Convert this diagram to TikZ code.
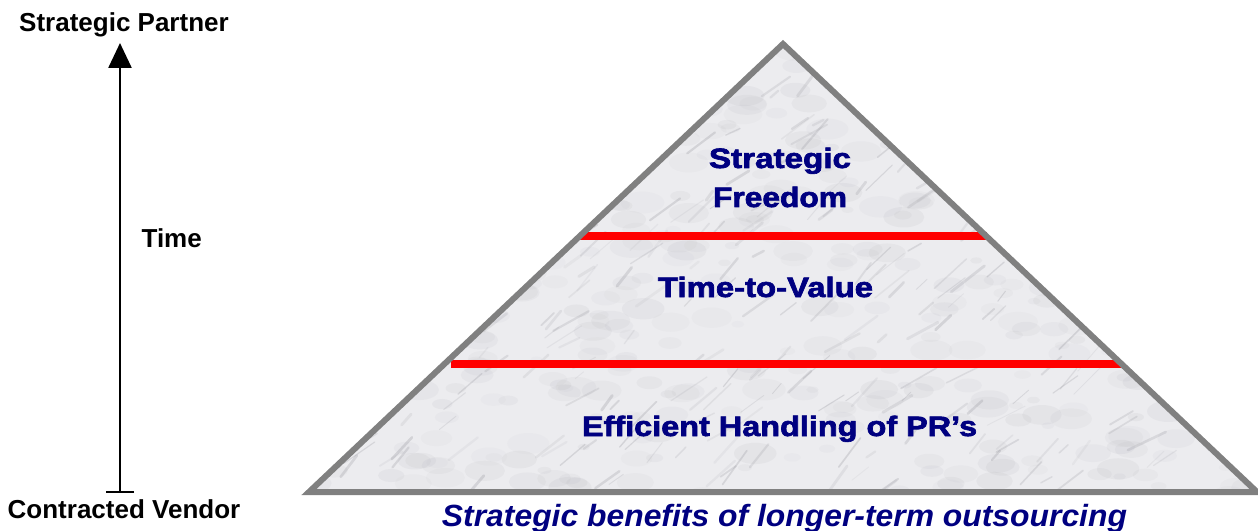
\documentclass[tikz,border=0pt]{standalone}
\usepackage{fontspec}
\setmainfont{Liberation Sans}
\newfontfamily\heavyfont{Liberation Sans}[BoldFeatures={FakeBold=2.2}]
\usetikzlibrary{arrows.meta}
\definecolor{navytext}{RGB}{0,0,128}
\definecolor{edgegray}{RGB}{128,128,128}
\definecolor{marblebase}{RGB}{236,236,239}
\definecolor{veingray}{RGB}{140,140,148}
\newcommand{\widetext}[2]{\resizebox{#1}{\height}{#2}}
\tikzset{
  sidelabel/.style={font=\fontsize{19.5pt}{22pt}\selectfont\bfseries, anchor=base, inner sep=0pt},
  tierlabel/.style={font=\fontsize{21pt}{24pt}\heavyfont\bfseries, text=navytext, anchor=base, inner sep=0pt},
  captionlabel/.style={font=\fontsize{23pt}{26pt}\selectfont\bfseries\itshape, text=navytext, anchor=base, inner sep=0pt},
  divider/.style={draw=red, line width=6.4pt},
  pyramidedge/.style={draw=edgegray, line width=4.5pt, line join=miter},
}
\begin{document}
\begin{tikzpicture}[x=0.75pt, y=-0.75pt]
\useasboundingbox (0,0) rectangle (1258,531);

% pyramid corners
\coordinate (apex) at (783,44);
\coordinate (bl) at (309,492);
\coordinate (br) at (1257,492);

% marble body
\fill[marblebase] (apex) -- (bl) -- (br) -- cycle;
\begin{scope}
  \clip (apex) -- (bl) -- (br) -- cycle;
  \pgfmathsetseed{11}
  % soft mottling
  \foreach \i in {1,...,500} {
    \pgfmathsetmacro\cx{300+960*rnd}
    \pgfmathsetmacro\cy{40+455*rnd}
    \pgfmathsetmacro\rr{6+16*rnd}
    \pgfmathsetmacro\op{0.03+0.05*rnd}
    \fill[veingray, opacity=\op] (\cx,\cy) ellipse [x radius=\rr, y radius=0.5*\rr];
  }
  % thin veins
  \foreach \i in {1,...,360} {
    \pgfmathsetmacro\cx{300+960*rnd}
    \pgfmathsetmacro\cy{40+455*rnd}
    \pgfmathsetmacro\len{10+34*rnd}
    \pgfmathsetmacro\ang{25+30*rnd}
    \pgfmathsetmacro\op{0.08+0.18*rnd}
    \pgfmathsetmacro\lw{0.6+1.6*rnd}
    \draw[veingray, opacity=\op, line width=\lw pt, line cap=round]
      (\cx,\cy) -- ++({\len*cos(\ang)},{-\len*sin(\ang)});
  }
\end{scope}

% tier dividers
\coordinate (d1l) at (580,236);
\coordinate (d1r) at (987,236);
\coordinate (d2l) at (451,364);
\coordinate (d2r) at (1121,364);
\draw[divider] (d1l) -- (d1r);
\draw[divider] (d2l) -- (d2r);

% pyramid outline
\draw[pyramidedge] (apex) -- (bl) -- (br) -- cycle;

% tier texts
\node[tierlabel] (t1a) at (780,168) {\widetext{106.5pt}{Strategic}};
\node[tierlabel] (t1b) at (780,207) {\widetext{100.5pt}{Freedom}};
\node[tierlabel] (t2) at (765.5,297) {\widetext{161.25pt}{Time-to-Value}};
\node[tierlabel] (t3) at (779.5,436) {\widetext{296.25pt}{Efficient Handling of PR’s}};

% caption
\node[captionlabel] (cap) at (784.5,526) {\widetext{513.75pt}{Strategic benefits of longer-term outsourcing}};

% time axis
\node[sidelabel] (top) at (124,32) {Strategic Partner};
\node[sidelabel] (bottom) at (124,518) {Contracted Vendor};
\node[sidelabel] (time) at (171.7,248) {Time};
\coordinate (axislow) at (120,493);
\coordinate (axishigh) at (120,43);
\draw[line width=1.9pt, {Bar[width=21pt,line width=1.5pt]}-{Triangle[length=18.75pt,width=17.25pt]}] (axislow) -- (axishigh);
\end{tikzpicture}
\end{document}
